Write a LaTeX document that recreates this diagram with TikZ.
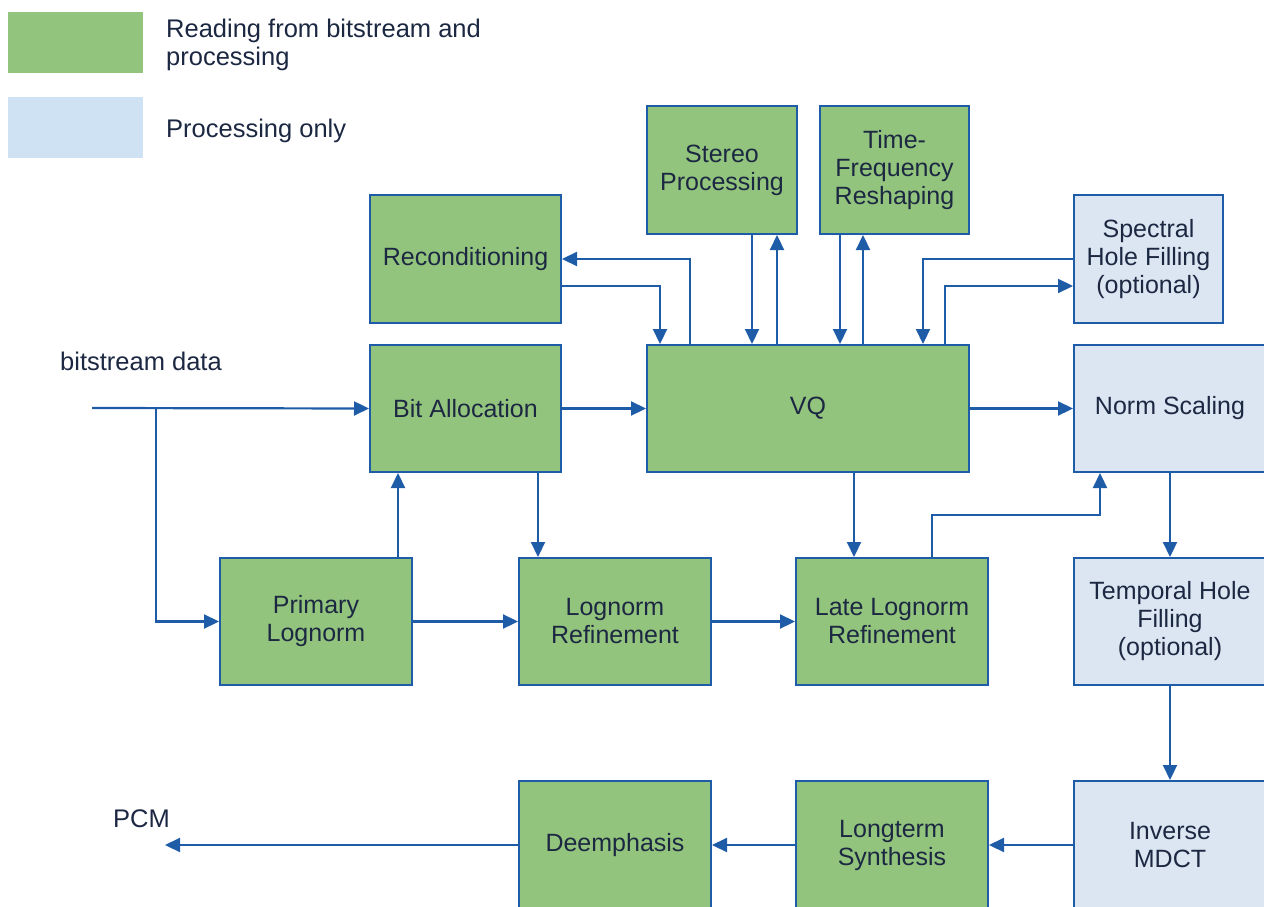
\documentclass[tikz,border=0pt]{standalone}
\usepackage{fontspec}
\setmainfont{Liberation Sans}
\usepackage{xcolor}
\usetikzlibrary{arrows.meta}
\definecolor{boxgreen}{RGB}{147,196,125}
\definecolor{boxblue}{RGB}{220,230,242}
\definecolor{keyblue}{RGB}{207,226,243}
\definecolor{edgeblue}{RGB}{31,92,168}
\definecolor{ink}{RGB}{28,40,66}

\tikzset{
  blk/.style={draw=edgeblue, line width=2pt, text=ink, align=center, inner sep=0pt,
    minimum width=192pt, minimum height=127pt, font=\fontsize{25}{28}\selectfont},
  rdbox/.style={blk, fill=boxgreen},
  pobox/.style={blk, fill=boxblue},
  flow/.style={draw=edgeblue, line width=2.2pt, -{Triangle[length=15pt,width=14pt]}},
  lbl/.style={text=ink, anchor=west, inner sep=0pt, align=left, font=\fontsize{25.5}{28}\selectfont},
}

\begin{document}
\begin{tikzpicture}[x=1pt,y=-1pt]
\useasboundingbox (0,0) rectangle (1264,907); %page is 1264 wide, 907 high

%Shape: legend keys
\node[fill=boxgreen, minimum width=135pt, minimum height=61pt, inner sep=0pt] (keyrd) at (75.5,42.5) {};
\node[fill=keyblue, minimum width=135pt, minimum height=61pt, inner sep=0pt] (keypo) at (75.5,127.5) {};
% Text Node
\node[lbl] (keyrdtxt) at (166,45) {Reading from bitstream and\\processing};
% Text Node
\node[lbl] (keypotxt) at (166,131) {Processing only};

%Shape: top row
\node[rdbox, minimum width=191pt, minimum height=128pt] (recon) at (465.5,259) {Reconditioning};
\node[rdbox, minimum width=150pt, minimum height=128pt] (stereo) at (722,170) {Stereo\\Processing};
\node[rdbox, minimum width=149pt, minimum height=128pt] (tfr) at (894.5,170) {Time-\\Frequency\\Reshaping};
\node[pobox, minimum width=149pt, minimum height=128pt] (shf) at (1148.5,259) {Spectral\\Hole Filling\\(optional)};

%Shape: middle row
\node[rdbox, minimum width=191pt] (bitalloc) at (465.5,408.5) {Bit Allocation};
\node[rdbox, minimum width=322pt] (vq) at (808,408.5) {VQ};
\node[pobox] (norm) at (1170,408.5) {Norm Scaling};

%Shape: lognorm row
\node[rdbox] (prim) at (316,621.5) {Primary\\Lognorm};
\node[rdbox] (lnref) at (615,621.5) {Lognorm\\Refinement};
\node[rdbox] (late) at (892,621.5) {Late Lognorm\\Refinement};
\node[pobox] (thf) at (1170,621.5) {Temporal Hole\\Filling\\(optional)};

%Shape: output row
\node[rdbox, minimum height=128pt] (deemph) at (615,845) {Deemphasis};
\node[rdbox, minimum height=128pt] (lts) at (892,845) {Longterm\\Synthesis};
\node[pobox, minimum height=128pt] (imdct) at (1170,845) {Inverse\\MDCT};

% Text Node
\node[lbl] (bsdata) at (60,361) {bitstream data};
% Text Node
\node[lbl] (pcm) at (113,819) {PCM};

\coordinate (bsin) at (92,408);
\coordinate (bssplit) at (156,408);
\coordinate (pcmout) at (165,845);

%Straight Lines: input
\draw[flow] (bsin) -- (bitalloc.west);
\draw[flow] (bssplit) |- (prim.west);
\draw[flow] ([xshift=82pt]prim.north) -- ([xshift=-67.5pt]bitalloc.south);
\draw[flow] ([xshift=72.5pt]bitalloc.south) -- ([xshift=-77pt]lnref.north);
\draw[flow] (prim.east) -- (lnref.west);
\draw[flow] (lnref.east) -- (late.west);
\draw[flow] (bitalloc.east) -- (vq.west);
\draw[flow] (vq.east) -- (norm.west);
\draw[flow] ([xshift=46pt]vq.south) -- ([xshift=-38pt]late.north);
\draw[flow] ([xshift=40pt]late.north) -- ++(0,-42) -| ([xshift=-70pt]norm.south);

%Straight Lines: side blocks of VQ
\draw[flow] ([xshift=-118pt]vq.north) |- (recon.east);
\draw[flow] ([yshift=-27pt]recon.east) -| ([xshift=-148pt]vq.north);
\draw[flow] ([xshift=30pt]stereo.south) -- ([xshift=-56pt]vq.north);
\draw[flow] ([xshift=-31pt]vq.north) -- ([xshift=55pt]stereo.south);
\draw[flow] ([xshift=-54.5pt]tfr.south) -- ([xshift=32pt]vq.north);
\draw[flow] ([xshift=55pt]vq.north) -- ([xshift=-31.5pt]tfr.south);
\draw[flow] (shf.west) -| ([xshift=115pt]vq.north);
\draw[flow] ([xshift=137pt]vq.north) |- ([yshift=-27pt]shf.west);

%Straight Lines: output chain
\draw[flow] (norm.south) -- (thf.north);
\draw[flow] (thf.south) -- (imdct.north);
\draw[flow] (imdct.west) -- (lts.east);
\draw[flow] (lts.west) -- (deemph.east);
\draw[flow] (deemph.west) -- (pcmout);

\end{tikzpicture}
\end{document}
